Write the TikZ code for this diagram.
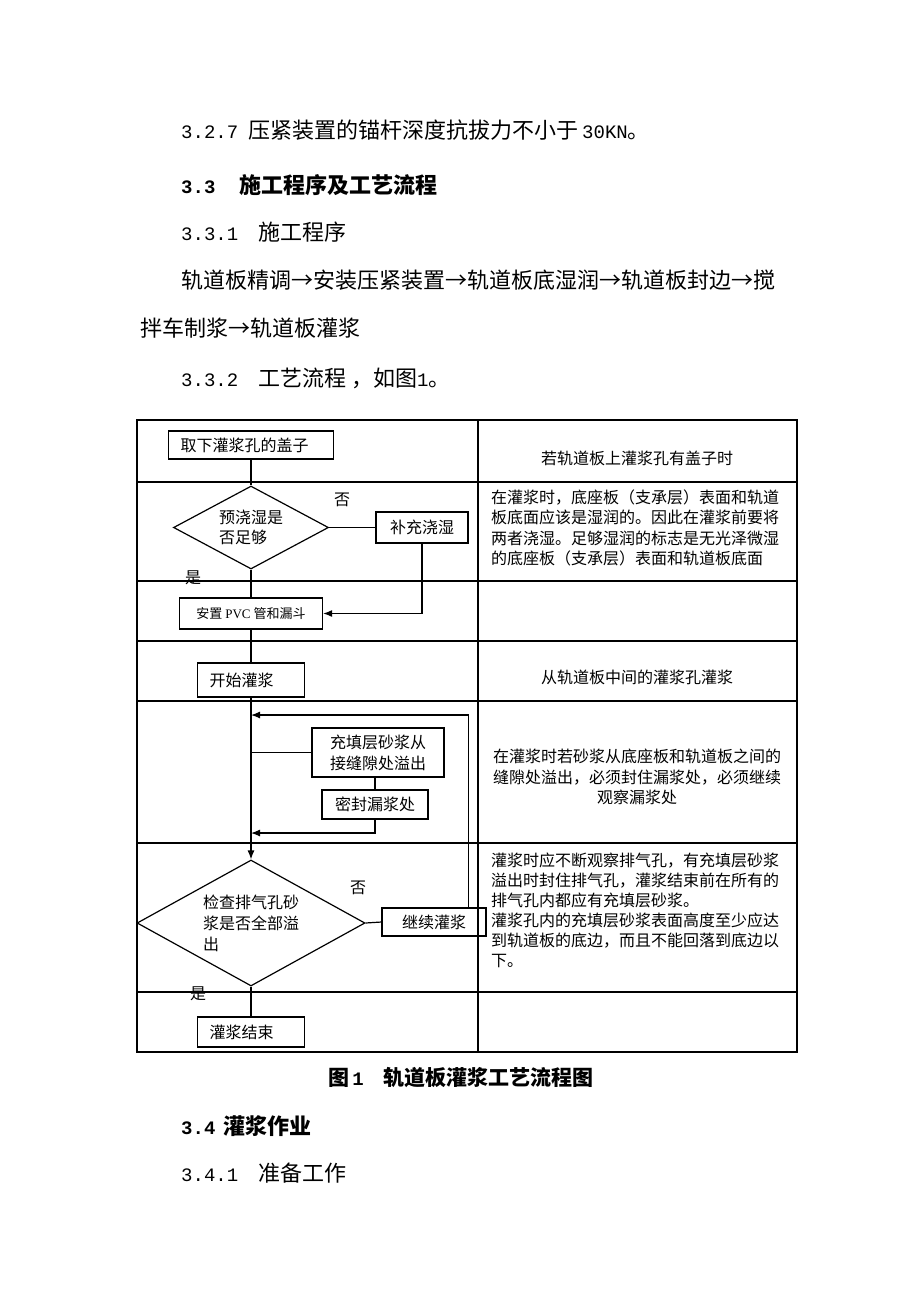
\documentclass[tikz,border=0pt]{standalone}
\usepackage{fontspec}
\setmainfont{Noto Sans CJK SC}
\newfontfamily\numfont{Liberation Mono}
\newfontfamily\latfont{Liberation Serif}
\usetikzlibrary{arrows.meta,shapes.geometric}
\newcommand{\bodyfont}{\fontsize{22}{26}\selectfont}
\newcommand{\tabfont}{\fontsize{16}{20.5}\selectfont}
\newcommand{\nm}[1]{{\numfont\fontsize{19}{20}\selectfont #1}}
\tikzset{
  grid/.style={line width=1.3pt},
  line/.style={line width=1.2pt},
  arr/.style={line width=1.2pt, -{Latex[length=9pt,width=7pt]}},
  box/.style={draw, line width=1.2pt, rectangle, inner sep=0pt, font=\tabfont},
  lbox/.style={box, align=left, inner xsep=12pt},
  ask/.style={draw, line width=1.2pt, diamond, aspect=2, inner sep=0pt, align=left, font=\tabfont},
  body/.style={anchor=west, inner sep=0pt, font=\bodyfont},
  note/.style={inner sep=0pt, font=\tabfont}
}
\begin{document}
\begin{tikzpicture}[x=1pt,y=-1pt]
\fill [white] (0,0) rectangle (920,1302);
\useasboundingbox (0,0) rectangle (920,1302);

\node [body] (l1) at (181,130) {\nm{3.2.7}\hspace{10pt}压紧装置的锚杆深度抗拔力不小于\hspace{4pt}\nm{30KN}。};
\node [body, font=\bodyfont\bfseries] (l2) at (181,185) {\nm{\bfseries 3.3}\hspace{24pt}施工程序及工艺流程};
\node [body] (l3) at (181,232) {\nm{3.3.1}\hspace{20pt}施工程序};
\node [body] (l4) at (181,280) {轨道板精调→安装压紧装置→轨道板底湿润→轨道板封边→搅};
\node [body] (l5) at (140,328) {拌车制浆→轨道板灌浆};
\node [body] (l6) at (181,378) {\nm{3.3.2}\hspace{20pt}工艺流程 ，如图\nm{1}。};

\draw [grid] (137,420) rectangle (797,1052);
\draw [grid] (478,420) -- (478,1052);
\foreach \y in {482,581,641,701,843,992}
  \draw [grid] (137,\y) -- (797,\y);

\node [lbox, text width=141pt, minimum height=28pt] (cover) at (251,445) {取下灌浆孔的盖子};
\node [ask, minimum width=155pt, minimum height=83pt] (ask1) at (251,527.5) {预浇湿是\\否足够};
\node [box, minimum width=92pt, minimum height=31pt] (add) at (422,527.5) {补充浇湿};
\node [box, minimum width=143pt, minimum height=31pt, font=\fontsize{13}{16}\selectfont] (pvc) at (251,613.5) {安置 {\latfont PVC} 管和漏斗};
\node [lbox, text width=83pt, minimum height=34pt] (start) at (251,680) {开始灌浆};
\node [box, minimum width=132pt, minimum height=49pt, align=left, font=\fontsize{16}{21}\selectfont] (fill) at (378,752.5) {充填层砂浆从\\接缝隙处溢出};
\node [box, minimum width=106pt, minimum height=29pt] (seal) at (375,804.5) {密封漏浆处};
\node [ask, aspect=1.8, minimum width=228pt, minimum height=126pt, font=\fontsize{16}{21}\selectfont] (ask2) at (251,923) {检查排气孔砂\\浆是否全部溢\\出};
\node [box, minimum width=104pt, minimum height=28pt] (cont) at (434,922) {继续灌浆};
\node [lbox, text width=83pt, minimum height=30pt] (end) at (251,1032) {灌浆结束};

\node [note] (no1) at (342,500) {否};
\node [note] (yes1) at (193,578) {是};
\node [note] (no2) at (358,888) {否};
\node [note] (yes2) at (198,994) {是};

\coordinate (m1) at (251,715);
\coordinate (m2) at (251,833);

\draw [line] (cover.south) -- (ask1.north);
\draw [line] (ask1.east) -- (add.west);
\draw [line] (ask1.south) -- (pvc.north);
\draw [arr] (add.south) |- (pvc.east);
\draw [line] (pvc.south) -- (start.north);
\draw [arr] (start.south) -- (ask2.north);
\draw [line] (fill.west) -- (fill.west -| start.south);
\draw [line] (seal.north) -- (seal.north |- fill.south);
\draw [arr] (seal.south) |- (m2);
\draw [line] (ask2.east) -- (cont.west);
\draw [arr] ([xshift=-18pt]cont.north east) |- (m1);
\draw [line] (ask2.south) -- (end.north);

\node [note] (t1) at (637,458) {若轨道板上灌浆孔有盖子时};
\node [note, anchor=west, align=left] (t2) at (491,528) {在灌浆时，底座板（支承层）表面和轨道\\板底面应该是湿润的。因此在灌浆前要将\\两者浇湿。足够湿润的标志是无光泽微湿\\的底座板（支承层）表面和轨道板底面};
\node [note] (t4) at (637,677) {从轨道板中间的灌浆孔灌浆};
\node [note, align=center] (t5) at (637,777) {在灌浆时若砂浆从底座板和轨道板之间的\\缝隙处溢出，必须封住漏浆处，必须继续\\观察漏浆处};
\node [note, anchor=west, align=left, font=\fontsize{16}{20}\selectfont] (t6) at (491,910) {灌浆时应不断观察排气孔，有充填层砂浆\\溢出时封住排气孔，灌浆结束前在所有的\\排气孔内都应有充填层砂浆。\\灌浆孔内的充填层砂浆表面高度至少应达\\到轨道板的底边，而且不能回落到底边以\\下。};

\node [inner sep=0pt, font=\fontsize{21}{24}\selectfont\bfseries] (cap) at (461,1078) {图\hspace{3pt}\nm{\bfseries 1}\hspace{20pt}轨道板灌浆工艺流程图};
\node [body, font=\bodyfont\bfseries] (l7) at (181,1126) {\nm{\bfseries 3.4}\hspace{8pt}灌浆作业};
\node [body] (l8) at (181,1173) {\nm{3.4.1}\hspace{20pt}准备工作};
\end{tikzpicture}
\end{document}
